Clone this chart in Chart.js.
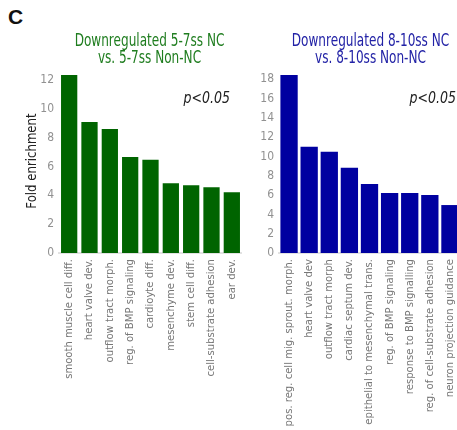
<!DOCTYPE html>
<html>
<head>
<meta charset="utf-8">
<script src="https://cdn.jsdelivr.net/npm/chart.js@4/dist/chart.umd.min.js"></script>
<style>
  html, body { margin: 0; padding: 0; background: #fff; overflow: hidden; }
  body { width: 457px; height: 430px; position: relative; }
  .panel { position: absolute; top: 0; height: 430px; }
  #panelLabel { position: absolute; left: 8px; top: 5px; font: bold 21px 'Liberation Sans', Arial, sans-serif; color: #111; }
</style>
</head>
<body>
<div id="panelLabel">C</div>
<div class="panel" id="leftWrap" style="left:0px;width:242px;"><canvas id="left"></canvas></div>
<div class="panel" id="rightWrap" style="left:250px;width:210px;"><canvas id="right"></canvas></div>
<script>
// GO terms enriched among genes downregulated in neural crest (NC) cells
const termsEarly = [
  'smooth muscle cell diff.', 'heart valve dev.', 'outflow tract morph.',
  'reg. of BMP signaling', 'cardioyte diff.', 'mesenchyme dev.',
  'stem cell diff.', 'cell-substrate adhesion', 'ear dev.'
];
const enrichEarly = [12.34, 9.08, 8.59, 6.65, 6.46, 4.84, 4.70, 4.56, 4.22];

const termsLate = [
  'pos. reg. cell mig. sprout. morph.', 'heart valve dev', 'outflow tract morph',
  'cardiac septum dev.', 'epithelial to mesenchymal trans.', 'reg. of BMP signaling',
  'response to BMP signalling', 'reg. of cell-substrate adhesion', 'neuron projection guidance'
];
const enrichLate = [18.45, 11.02, 10.50, 8.83, 7.16, 6.22, 6.22, 6.00, 4.97];

const titleEarly = ['Downregulated 5-7ss NC', 'vs. 5-7ss Non-NC'];
const titleLate = ['Downregulated 8-10ss NC', 'vs. 8-10ss Non-NC'];
const pLabel = 'p<0.05';
const yAxisTitle = 'Fold enrichment';

const FONT = "'DejaVu Sans Condensed', 'Liberation Sans', sans-serif";

// Draw text squeezed along its baseline to get a narrow, condensed look
function condensedText(ctx, text, x, y, squeeze, rotate) {
  ctx.save();
  ctx.translate(x, y);
  if (rotate) ctx.rotate(rotate);
  ctx.scale(squeeze, 1);
  ctx.fillText(text, 0, 0);
  ctx.restore();
}

// Two-line heading centred over the plot area, the significance note and the value-axis title
const headline = {
  id: 'headline',
  afterDraw(chart, args, opts) {
    const { ctx, chartArea } = chart;
    ctx.save();
    ctx.textAlign = 'center';
    ctx.textBaseline = 'middle';
    ctx.fillStyle = opts.color;
    ctx.font = '17px ' + FONT;
    const cx = (chartArea.left + chartArea.right) / 2 + (opts.shift || 0);
    opts.lines.forEach((t, i) => condensedText(ctx, t, cx, 42 + i * 17, 0.79));
    ctx.fillStyle = '#222';
    ctx.font = 'italic 15px ' + FONT;
    ctx.textAlign = 'right';
    condensedText(ctx, opts.note, chartArea.right - opts.noteInset, 99, 0.93);
    if (opts.axisTitle) {
      ctx.textAlign = 'center';
      ctx.font = '14.5px ' + FONT;
      condensedText(ctx, opts.axisTitle, 32, (chartArea.top + chartArea.bottom) / 2 - 3, 0.9, -Math.PI / 2);
    }
    ctx.restore();
  }
};

function buildChart(id, labels, values, barColor, title, yWidth, axisTitle, yMax, noteInset, shift, barPct) {
  return new Chart(document.getElementById(id), {
    type: 'bar',
    data: {
      labels: labels,
      datasets: [{
        data: values,
        backgroundColor: barColor,
        borderWidth: 0,
        categoryPercentage: 1.0,
        barPercentage: barPct
      }]
    },
    plugins: [headline],
    options: {
      responsive: true,
      maintainAspectRatio: false,
      animation: false,
      layout: { padding: { top: 75, right: 0, left: 0, bottom: 0 } },
      plugins: {
        legend: { display: false },
        tooltip: { enabled: false },
        headline: { lines: title, color: title.color, note: pLabel, noteInset: noteInset, shift: shift, axisTitle: axisTitle }
      },
      scales: {
        x: {
          grid: { display: false, drawTicks: false },
          border: { display: true, color: '#e2e2e2', width: 2 },
          ticks: {
            color: '#777',
            font: { family: FONT, size: 11.2 },
            maxRotation: 90,
            minRotation: 90,
            autoSkip: false,
            padding: 6
          },
          afterFit(scale) {
            scale.height = 177;
            scale.paddingLeft = 0;
            scale.paddingRight = 0;
          }
        },
        y: {
          min: 0,
          max: yMax,
          grid: { display: false, drawTicks: false },
          border: { display: false },
          ticks: {
            stepSize: 2,
            includeBounds: false,
            autoSkip: false,
            color: '#919191',
            font: { family: FONT, size: 12 },
            padding: 5
          },
          afterFit(scale) { scale.width = yWidth; }
        }
      }
    }
  });
}

titleEarly.color = '#1f7d1f';
titleLate.color = '#2222a6';

buildChart('left', termsEarly, enrichEarly, '#006400', titleEarly, 59, yAxisTitle, 12.34, 12, -1, 0.80);
buildChart('right', termsLate, enrichLate, '#0000a0', titleLate, 29, null, 18.45, 4, 1, 0.86);
</script>
</body>
</html>
